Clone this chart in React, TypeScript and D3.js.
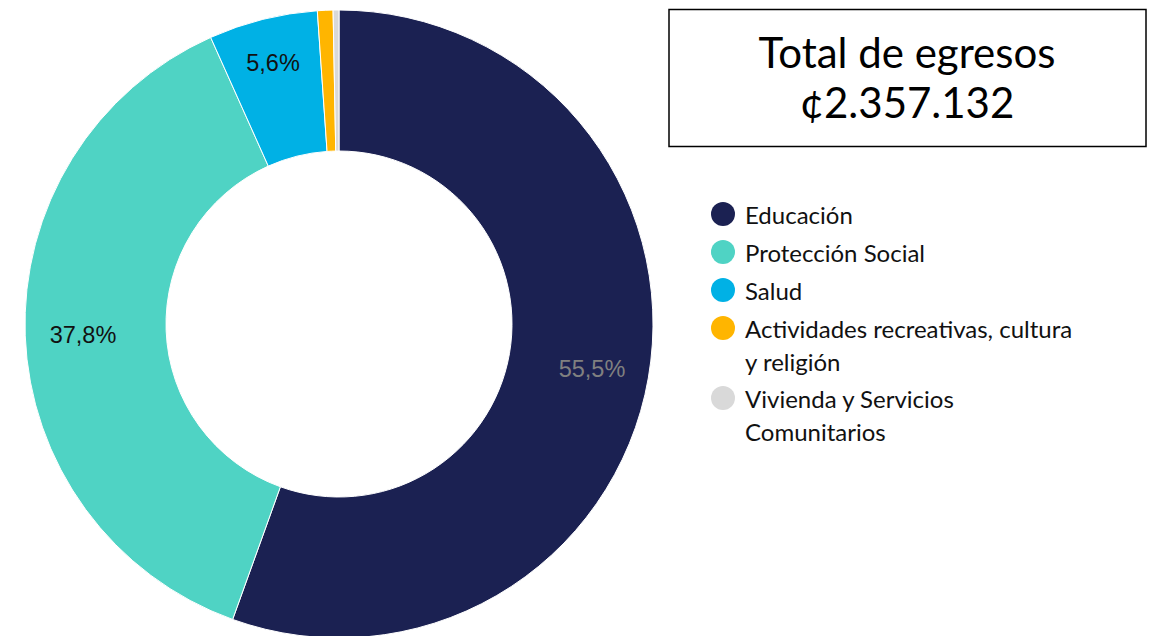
import React from "react";
import * as d3 from "d3";

const categories = [
  "Educación",
  "Protección Social",
  "Salud",
  "Actividades recreativas, cultura y religión",
  "Vivienda y Servicios Comunitarios",
];
const values = [55.5, 37.8, 5.6, 0.8, 0.3];
const colors = ["#1b2152", "#4fd3c4", "#00b1e5", "#ffb500", "#d9d9d9"];
const legendLines = [
  ["Educación"],
  ["Protección Social"],
  ["Salud"],
  ["Actividades recreativas, cultura", "y religión"],
  ["Vivienda y Servicios", "Comunitarios"],
];
const labelTexts = ["55,5%", "37,8%", "5,6%", "", ""];
const totalTitle = "Total de egresos";
const totalValue = "¢2.357.132";

const W = 1153;
const H = 636;

export default function App() {
  const cx = 339;
  const cy = 324;
  const outerR = 314;
  const innerR = 173;
  const data = categories.map((c, i) => ({ c, v: values[i], i }));
  const pie = d3.pie<any>().value((d) => d.v).sort(null);
  const arcs = pie(data);
  const arc = d3.arc<any>().innerRadius(innerR).outerRadius(outerR);
  const labelArc = d3.arc<any>().innerRadius(270).outerRadius(270);
  const labelColors = ["#808080", "#111", "#111", "#111", "#111"];

  const legendX = 723;
  const rowY = [214, 252, 290, 328, 398];
  const lineH = 33;

  return (
    <svg
      width={W}
      height={H}
      style={{ position: "absolute", left: 0, top: 0 }}
      fontFamily="Lato, 'Open Sans', sans-serif"
    >
      <rect width={W} height={H} fill="#fff" />
      <g transform={`translate(${cx},${cy})`}>
        {arcs.map((a, i) => (
          <path key={i} d={arc(a) || ""} fill={colors[i]} stroke="#fff" strokeWidth={1} />
        ))}
        {arcs.map((a, i) => {
          if (!labelTexts[i]) return null;
          let [x, y] = labelArc.centroid(a);
          if (i === 0) { x = 253; y = 45; }
          if (i === 1) { x = -256; y = 11; }
          if (i === 2) { x = -66; y = -261; }
          return (
            <text
              key={i}
              x={x}
              y={y}
              textAnchor="middle"
              dominantBaseline="central"
              fontFamily="'Liberation Sans', Arial, sans-serif"
              fontSize={23.5}
              fill={labelColors[i]}
            >
              {labelTexts[i]}
            </text>
          );
        })}
      </g>
      <rect x={669} y={9.5} width={477} height={137} fill="#fff" stroke="#000" strokeWidth={1.5} />
      <text x={907} y={68} textAnchor="middle" fontSize={42} fill="#000">
        {totalTitle}
      </text>
      <text x={907} y={118} textAnchor="middle" fontSize={42} fill="#000">
        {totalValue}
      </text>
      {legendLines.map((lines, i) => (
        <g key={i}>
          <circle cx={legendX} cy={rowY[i]} r={12} fill={colors[i]} />
          {lines.map((l, j) => (
            <text
              key={j}
              x={745}
              y={rowY[i] + j * lineH}
              dominantBaseline="central"
              fontSize={24}
              fill="#111"
            >
              {l}
            </text>
          ))}
        </g>
      ))}
    </svg>
  );
}
